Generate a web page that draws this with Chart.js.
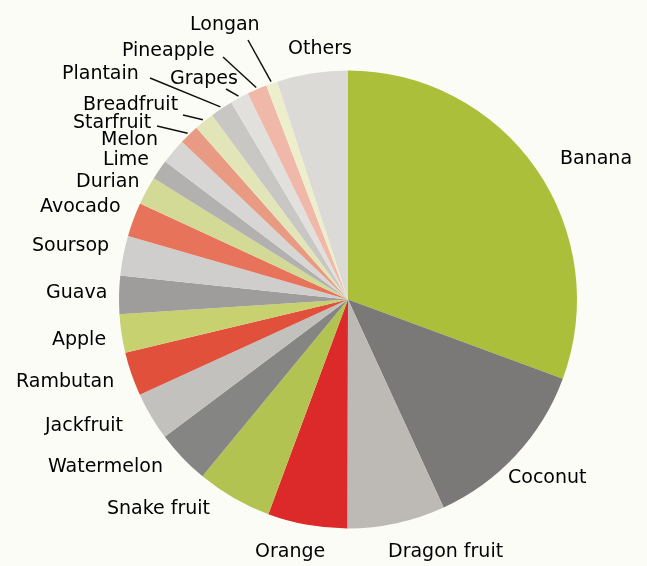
<!DOCTYPE html>
<html>
<head>
<meta charset="utf-8">
<script src="https://cdn.jsdelivr.net/npm/chart.js@4"></script>
<style>
    html, body { margin: 0; padding: 0; background: #fcfcf7; }
    #wrap { width: 647px; height: 566px; position: relative; }
</style>
</head>
<body>
<div id="wrap"><canvas id="fruitChart" width="647" height="566"></canvas></div>
<script>
// Parts de chaque fruit (en %)
const fruits = ['Banana', 'Coconut', 'Dragon fruit', 'Orange', 'Snake fruit', 'Watermelon', 'Jackfruit',
    'Rambutan', 'Apple', 'Guava', 'Soursop', 'Avocado', 'Durian', 'Lime', 'Melon', 'Starfruit',
    'Breadfruit', 'Plantain', 'Grapes', 'Pineapple', 'Longan', 'Others'];
const shares = [30.6, 12.5, 6.9, 5.6, 5.3, 3.8, 3.4, 3.1, 2.7, 2.7, 2.8, 2.4, 2.0, 1.4, 1.8, 1.4,
    1.4, 1.6, 1.3, 1.4, 0.8, 5.0];

const colors = ['#acbf3a', '#7a7977', '#bdb9b5', '#dc2a2a', '#b3c352', '#858583', '#c2c1bd',
    '#e0503b', '#c8d170', '#9e9d9b', '#d0cecc', '#e6735a', '#d3da95', '#b2b1af', '#d8d6d4', '#e89a82',
    '#e2e5b8', '#c8c7c3', '#e2e0dd', '#f0b8a8', '#eceecc', '#dcdad6'];

// Position des étiquettes (texte à gauche, ligne de base) + début du trait de rappel éventuel
const labelLayout = {
    'Banana':       { x: 560, y: 164 },
    'Coconut':      { x: 508, y: 483 },
    'Dragon fruit': { x: 388, y: 557 },
    'Orange':       { x: 255, y: 557 },
    'Snake fruit':  { x: 107, y: 514 },
    'Watermelon':   { x: 48,  y: 472 },
    'Jackfruit':    { x: 45,  y: 431 },
    'Rambutan':     { x: 16,  y: 387 },
    'Apple':        { x: 52,  y: 345 },
    'Guava':        { x: 46,  y: 298 },
    'Soursop':      { x: 32,  y: 251 },
    'Avocado':      { x: 40,  y: 212 },
    'Durian':       { x: 76,  y: 187 },
    'Lime':         { x: 103, y: 165 },
    'Melon':        { x: 101, y: 145 },
    'Starfruit':    { x: 73,  y: 128, lead: [157, 126] },
    'Breadfruit':   { x: 83,  y: 110, lead: [183, 115] },
    'Plantain':     { x: 62,  y: 79,  lead: [150, 78] },
    'Grapes':       { x: 170, y: 84,  lead: [226, 89] },
    'Pineapple':    { x: 122, y: 56,  lead: [223, 57] },
    'Longan':       { x: 190, y: 30,  lead: [248, 40] },
    'Others':       { x: 288, y: 54 }
};

const labelPlugin = {
    id: 'fruitLabels',
    afterDraw(chart) {
        const ctx = chart.ctx;
        const meta = chart.getDatasetMeta(0);
        ctx.save();
        ctx.font = '19px "DejaVu Sans"';
        ctx.fillStyle = '#000';
        ctx.textBaseline = 'alphabetic';
        ctx.textAlign = 'left';
        meta.data.forEach((arc, i) => {
            const name = fruits[i];
            const pos = labelLayout[name];
            if (!pos) return;
            if (pos.lead) {
                const p = arc.getProps(['x', 'y', 'startAngle', 'endAngle', 'outerRadius'], true);
                const mid = (p.startAngle + p.endAngle) / 2;
                const ex = p.x + Math.cos(mid) * (p.outerRadius + 2);
                const ey = p.y + Math.sin(mid) * (p.outerRadius + 2);
                ctx.strokeStyle = '#111';
                ctx.lineWidth = 1.5;
                ctx.beginPath();
                ctx.moveTo(pos.lead[0], pos.lead[1]);
                ctx.lineTo(ex, ey);
                ctx.stroke();
            }
            ctx.fillText(name, pos.x, pos.y);
        });
        ctx.restore();
    }
};

new Chart(document.getElementById('fruitChart'), {
    type: 'pie',
    data: {
        labels: fruits,
        datasets: [{ data: shares, backgroundColor: colors, borderWidth: 0 }]
    },
    options: {
        responsive: false,
        animation: false,
        layout: { padding: { left: 119, right: 70, top: 70.5, bottom: 37.5 } },
        plugins: { legend: { display: false }, tooltip: { enabled: false } }
    },
    plugins: [labelPlugin]
});
</script>
</body>
</html>
